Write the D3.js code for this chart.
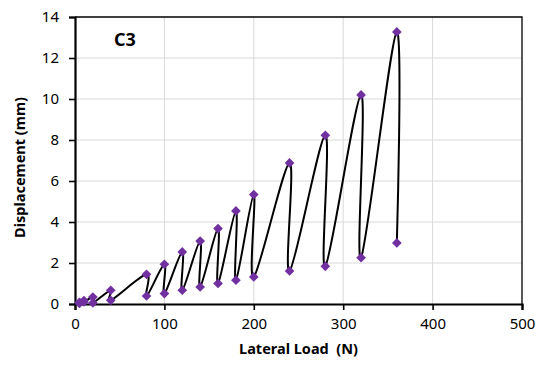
<!DOCTYPE html>
<html lang="en">
<head>
    <meta charset="UTF-8">
    <script src="https://d3js.org/d3.v7.min.js"></script>
    <title>C3</title>
    <style>
        body { margin: 0; background: #fff; }
        text { font-family: "Noto Sans", "Open Sans", sans-serif; fill: #000; }
        .tick text { font-size: 15px; }
        .axis-title { font-size: 14.5px; font-weight: 700; }
        .grid line { stroke: #d9d9d9; stroke-width: 1; }
    </style>
</head>
<body>
    <div id="chart"></div>
    <script>
        // Data: lateral load (N) and displacement (mm), peak then residual per cycle
        const loads = [5, 5, 10, 10, 20, 20, 40, 40, 80, 80, 100, 100, 120, 120, 140, 140,
            160, 160, 180, 180, 200, 200, 240, 240, 280, 280, 320, 320, 360, 360];
        const displacements = [0.08, 0.03, 0.17, 0.1, 0.34, 0.05, 0.67, 0.18, 1.45, 0.39,
            1.94, 0.51, 2.54, 0.67, 3.07, 0.83, 3.68, 1.0, 4.54, 1.16, 5.34, 1.32,
            6.88, 1.61, 8.23, 1.84, 10.2, 2.26, 13.27, 2.98];
        const xTicks = [0, 100, 200, 300, 400, 500];
        const yTicks = [0, 2, 4, 6, 8, 10, 12, 14];

        const data = loads.map((x, i) => ({ x, y: displacements[i] }));

        // Dimensions
        const width = 543;
        const height = 365;
        const margin = { left: 75, right: 21, top: 17, bottom: 61 };

        const svg = d3.select("#chart")
            .append("svg")
            .attr("width", width)
            .attr("height", height);

        svg.append("rect")
            .attr("width", width)
            .attr("height", height)
            .attr("fill", "#fff");

        // Scales
        const x = d3.scaleLinear()
            .domain([0, 500])
            .range([margin.left, width - margin.right]);

        const y = d3.scaleLinear()
            .domain([0, 14])
            .range([height - margin.bottom, margin.top]);

        // Gridlines
        svg.append("g")
            .attr("class", "grid")
            .selectAll("line.h")
            .data(yTicks.slice(1, -1))
            .join("line")
            .attr("x1", x(0))
            .attr("x2", x(500))
            .attr("y1", d => y(d))
            .attr("y2", d => y(d));

        svg.append("g")
            .attr("class", "grid")
            .selectAll("line.v")
            .data(xTicks.slice(1, -1))
            .join("line")
            .attr("x1", d => x(d))
            .attr("x2", d => x(d))
            .attr("y1", y(0))
            .attr("y2", y(14));

        // Plot border (top and right)
        svg.append("path")
            .attr("d", `M${x(0)},${y(14)}H${x(500)}V${y(0)}`)
            .attr("fill", "none")
            .attr("stroke", "#000")
            .attr("stroke-width", 1.3);

        // Axes
        const xAxis = svg.append("g")
            .attr("transform", `translate(0,${y(0)})`)
            .call(d3.axisBottom(x).tickValues(xTicks).tickSize(6).tickPadding(8));

        const yAxis = svg.append("g")
            .attr("transform", `translate(${x(0)},0)`)
            .call(d3.axisLeft(y).tickValues(yTicks).tickSize(6).tickPadding(10));

        [xAxis, yAxis].forEach(g => {
            g.select(".domain").attr("stroke", "#000").attr("stroke-width", 2.2);
            g.selectAll(".tick line").attr("stroke", "#000").attr("stroke-width", 1.6);
            g.attr("font-family", null).attr("font-size", null);
        });

        // Smoothed line
        const line = d3.line()
            .x(d => x(d.x))
            .y(d => y(d.y))
            .curve(d3.curveCardinal.tension(0));

        svg.append("path")
            .datum(data)
            .attr("d", line)
            .attr("fill", "none")
            .attr("stroke", "#000")
            .attr("stroke-width", 2);

        // Diamond markers
        svg.selectAll(".marker")
            .data(data)
            .join("path")
            .attr("class", "marker")
            .attr("d", d3.symbol(d3.symbolDiamond2, 60))
            .attr("transform", d => `translate(${x(d.x)},${y(d.y)})`)
            .attr("fill", "#7030a0");

        // Axis titles
        svg.append("text")
            .attr("class", "axis-title")
            .attr("x", (x(0) + x(500)) / 2)
            .attr("y", 354)
            .attr("text-anchor", "middle")
            .attr("xml:space", "preserve")
            .text("Lateral Load  (N)");

        svg.append("text")
            .attr("class", "axis-title")
            .attr("transform", `translate(25,${(y(0) + y(14)) / 2 + 7}) rotate(-90)`)
            .attr("text-anchor", "middle")
            .text("Displacement (mm)");

        // Specimen label
        svg.append("text")
            .attr("x", 125)
            .attr("y", 46)
            .attr("text-anchor", "middle")
            .attr("font-size", "18px")
            .attr("font-weight", 700)
            .text("C3");
    </script>
</body>
</html>
